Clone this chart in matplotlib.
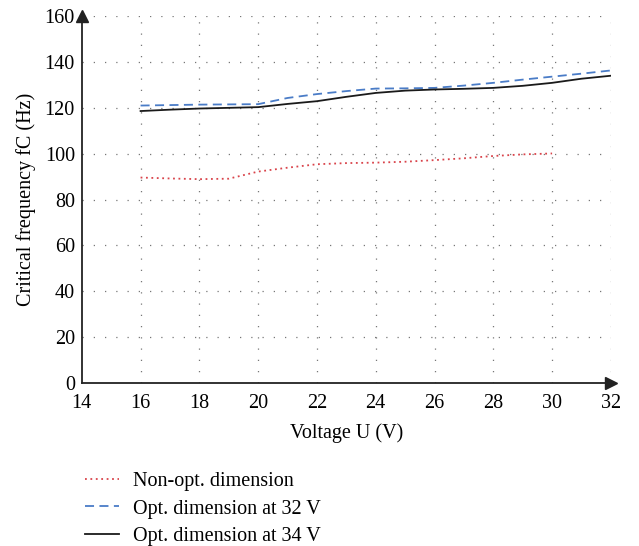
import matplotlib
matplotlib.use('Agg')
import matplotlib.pyplot as plt
import numpy as np

plt.rcParams['font.family'] = ['Liberation Serif', 'DejaVu Serif']
plt.rcParams['font.size'] = 14.5

# values
volt_nonopt = [16, 17, 18, 19, 20, 21, 22, 23, 24, 25, 26, 27, 28, 29, 30]
f_nonopt = [89.6, 89.2, 88.9, 89.1, 92.2, 93.9, 95.4, 95.9, 96.1, 96.5, 97.2, 98.0, 99.0, 99.7, 100.1]

volt_opt = [16, 17, 18, 19, 20, 21, 22, 23, 24, 25, 26, 27, 28, 29, 30, 31, 32]
f_opt32 = [121.0, 121.2, 121.4, 121.5, 121.6, 124.3, 126.0, 127.3, 128.4, 128.5, 128.7, 129.7, 130.9, 132.3, 133.6, 134.9, 136.3]
f_opt34 = [118.6, 119.2, 119.7, 120.0, 120.3, 121.7, 122.9, 124.8, 126.5, 127.5, 128.0, 128.3, 128.7, 129.6, 130.9, 132.7, 134.0]

labels = ['Non-opt. dimension', 'Opt. dimension at 32 V', 'Opt. dimension at 34 V']


def plot_fc():
    fig = plt.figure(figsize=(6.39, 5.46), dpi=100)
    ax = fig.add_axes([0.128, 0.2985, 0.828, 0.672])

    l1, = ax.plot(volt_nonopt, f_nonopt, color='#d9434a', ls=(0, (1, 2)), lw=1.3)
    l2, = ax.plot(volt_opt, f_opt32, color='#4a7cc7', ls=(0, (5, 3)), lw=1.3)
    l3, = ax.plot(volt_opt, f_opt34, color='#1a1a1a', ls='-', lw=1.3)

    ax.set_xlim(14, 32)
    ax.set_ylim(0, 160)
    ax.set_xticks(np.arange(14, 33, 2))
    ax.set_yticks(np.arange(0, 161, 20))
    ax.tick_params(axis='x', length=0, pad=8)
    ax.tick_params(axis='y', length=0, pad=5)

    for x in np.arange(16, 33, 2):
        ax.axvline(x, color='#777777', lw=0.9, ls=(0, (1, 8)), zorder=0)
    for y in np.arange(20, 161, 20):
        ax.axhline(y, color='#777777', lw=0.9, ls=(0, (1, 8)), zorder=0)

    for s in ['top', 'right']:
        ax.spines[s].set_visible(False)
    for s in ['left', 'bottom']:
        ax.spines[s].set_linewidth(1.3)
        ax.spines[s].set_color('#222222')

    ax.plot(1, 0, '>', color='#222222', ms=8, transform=ax.transAxes, clip_on=False)
    ax.plot(0, 1, '^', color='#222222', ms=8, transform=ax.transAxes, clip_on=False)

    ax.set_xlabel('Voltage U (V)', labelpad=7)
    ax.set_ylabel('Critical frequency fC (Hz)', labelpad=6)

    fig.legend([l1, l2, l3], labels, loc='upper left', bbox_to_anchor=(0.133, 0.135),
               frameon=False, handlelength=1.7, handletextpad=0.7, labelspacing=0.4,
               borderaxespad=0, borderpad=0)

    plt.savefig('out.png', dpi=100)


if __name__ == "__main__":
    plot_fc()
